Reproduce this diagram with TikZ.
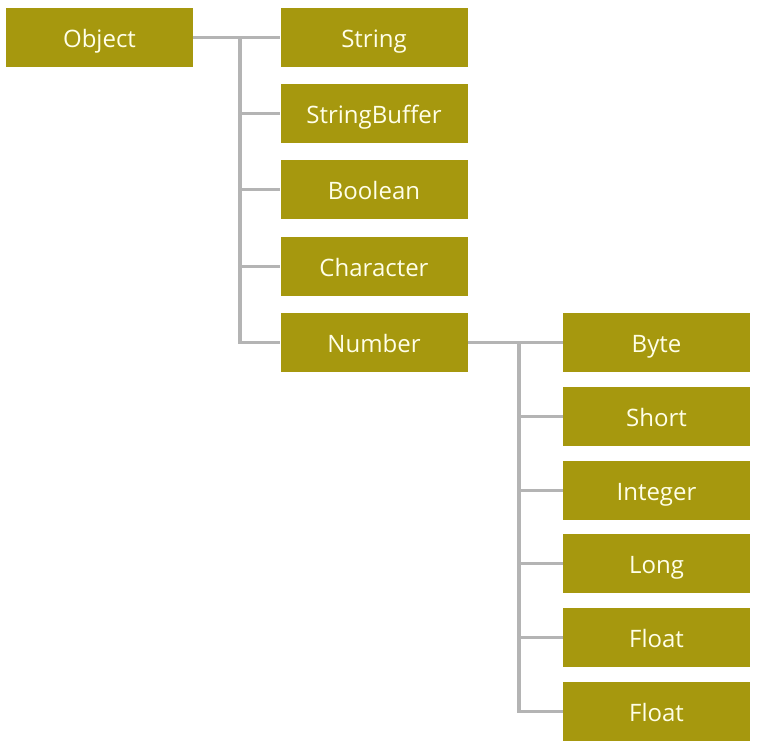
\documentclass[tikz,border=0pt]{standalone}
\usepackage{fontspec}
\setmainfont{Open Sans}
\usetikzlibrary{positioning}
\definecolor{olivebox}{RGB}{166,152,14}
\definecolor{cream}{RGB}{255,255,232}
\definecolor{linkgray}{RGB}{180,180,180}
\tikzset{cls/.style={fill=olivebox, text=cream, minimum width=187pt, minimum height=59pt, inner sep=0pt, text height=20pt, text depth=0pt, font=\fontsize{24}{28}\selectfont},
link/.style={draw=linkgray, line width=3.5pt}}

\begin{document}
\begin{tikzpicture}[x=1pt, y=-1pt]
\useasboundingbox (0,0) rectangle (759,749);
\node[cls] at (99.5,37.5) (object) {Object};
\node[cls] at (374,37.5) (string) {String};
\node[cls] at (374,113.5) (strbuf) {StringBuffer};
\node[cls] at (374,189.5) (boolean) {Boolean};
\node[cls] at (374,266.5) (character) {Character};
\node[cls] at (374,342.5) (number) {Number};

\node[cls] at (656.5,342.5) (byte) {Byte};
\node[cls] at (656.5,416.5) (short) {Short};
\node[cls] at (656.5,490.5) (integer) {Integer};
\node[cls] at (656.5,563.5) (long) {Long};
\node[cls] at (656.5,637.5) (floatone) {Float};
\node[cls] at (656.5,711.5) (floattwo) {Float};

\coordinate (trunkone) at (240,37.5);
\coordinate (trunktwo) at (519,342.5);

\draw[link] (object) -- (string);
\draw[link] (trunkone) |- (strbuf);
\draw[link] (trunkone) |- (boolean);
\draw[link] (trunkone) |- (character);
\draw[link] (trunkone) |- (number);

\draw[link] (number) -- (byte);
\draw[link] (trunktwo) |- (short);
\draw[link] (trunktwo) |- (integer);
\draw[link] (trunktwo) |- (long);
\draw[link] (trunktwo) |- (floatone);
\draw[link] (trunktwo) |- (floattwo);

\end{tikzpicture}
\end{document}
